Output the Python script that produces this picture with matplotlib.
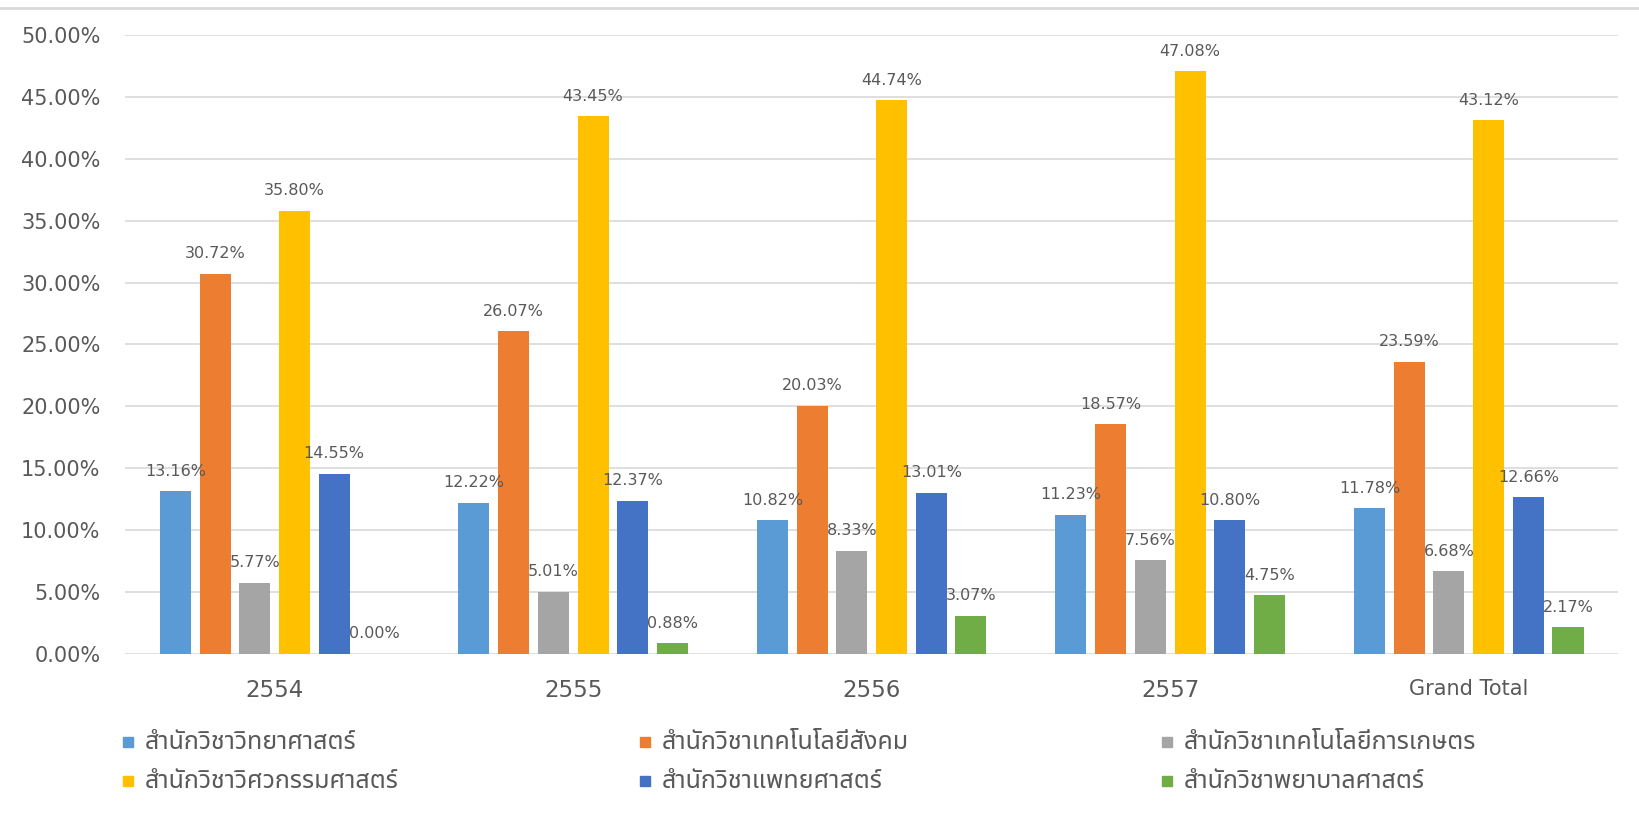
import matplotlib
matplotlib.use("Agg")
import matplotlib.pyplot as plt
import numpy as np
from matplotlib import font_manager as fm
from matplotlib.ft2font import FT2Font
from matplotlib.patches import Rectangle
from matplotlib.lines import Line2D

# ---------------- data ----------------
categories = ["2554", "2555", "2556", "2557", "Grand Total"]
series_names = [
    "สำนักวิชาวิทยาศาสตร์",
    "สำนักวิชาเทคโนโลยีสังคม",
    "สำนักวิชาเทคโนโลยีการเกษตร",
    "สำนักวิชาวิศวกรรมศาสตร์",
    "สำนักวิชาแพทยศาสตร์",
    "สำนักวิชาพยาบาลศาสตร์",
]
science = [13.16, 12.22, 10.82, 11.23, 11.78]
social_tech = [30.72, 26.07, 20.03, 18.57, 23.59]
agri_tech = [5.77, 5.01, 8.33, 7.56, 6.68]
engineering = [35.80, 43.45, 44.74, 47.08, 43.12]
medicine = [14.55, 12.37, 13.01, 10.80, 12.66]
nursing = [0.00, 0.88, 3.07, 4.75, 2.17]
series_values = [science, social_tech, agri_tech, engineering, medicine, nursing]
colors = ["#5B9BD5", "#ED7D31", "#A5A5A5", "#FFC000", "#4472C4", "#70AD47"]
yticks = [0, 5, 10, 15, 20, 25, 30, 35, 40, 45, 50]


def find_thai_font():
    prefs = ["Noto Sans Thai", "Noto Sans Thai UI", "Noto Sans Thai Looped",
             "Loma", "Garuda", "Kinnari", "Norasi", "Sarabun", "Tlwg Typo"]
    cands = {}
    for f in fm.fontManager.ttflist:
        try:
            cm = FT2Font(f.fname).get_charmap()
            if 0x0E2A in cm and 0x0E33 in cm and 0x0E4C in cm:
                cands.setdefault(f.name, f.fname)
        except Exception:
            pass
    for p in prefs:
        if p in cands:
            return p
    return next(iter(cands), "DejaVu Sans")


thai_font = find_thai_font()
plt.rcParams["font.family"] = ["DejaVu Sans"]

txt_color = "#595959"
grid_color = "#D9D9D9"

fig = plt.figure(figsize=(16.39, 8.13), dpi=100)
ax = fig.add_axes([0.0765, 0.1956, 0.9107, 0.7614])

x = np.arange(len(categories))
bw = 0.104
pitch = 0.133
n = len(series_values)
for i, (vals, col) in enumerate(zip(series_values, colors)):
    xs = x + (i - (n - 1) / 2) * pitch
    ax.bar(xs, vals, width=bw, color=col, zorder=3)
    for xx, v in zip(xs, vals):
        ax.annotate(f"{v:.2f}%", (xx, v), xytext=(0, 9), textcoords="offset points",
                    ha="center", va="bottom", fontsize=11.5, color=txt_color, zorder=4)

ax.set_xlim(-0.5, len(categories) - 0.5)
ax.set_ylim(0, 50)
ax.set_yticks(yticks)
ax.set_yticklabels([f"{t:.2f}%" for t in yticks], fontsize=15, color=txt_color)
ax.set_xticks(x)
ax.set_xticklabels(categories, color=txt_color)
for lbl, c in zip(ax.get_xticklabels(), categories):
    lbl.set_fontsize(15 if c == "Grand Total" else 16.5)
ax.tick_params(axis="both", length=0)
ax.tick_params(axis="y", pad=18)
ax.tick_params(axis="x", pad=18)
ax.grid(axis="y", color=grid_color, linewidth=1.2, zorder=0)
for s in ax.spines.values():
    s.set_visible(False)

# top border line of the chart frame
fig.add_artist(Line2D([0, 1], [1 - 8 / 813, 1 - 8 / 813], color=grid_color, linewidth=2,
                      transform=fig.transFigure))

# legend (3 columns, row-wise order)
col_x = [123, 640, 1162]
row_y = [742, 781]
W, H = 1639, 813
for i, (name, col) in enumerate(zip(series_names, colors)):
    r, c = divmod(i, 3)
    mx = col_x[c]
    my = row_y[r]
    fig.add_artist(Rectangle((mx / W, (H - my - 5) / H), 10 / W, 10 / H,
                             transform=fig.transFigure, color=col))
    fig.text((mx + 22) / W, (H - my) / H, name, fontsize=18, color=txt_color,
             va="center", ha="left", family=[thai_font, "DejaVu Sans"])

fig.savefig("out.png", dpi=100)
